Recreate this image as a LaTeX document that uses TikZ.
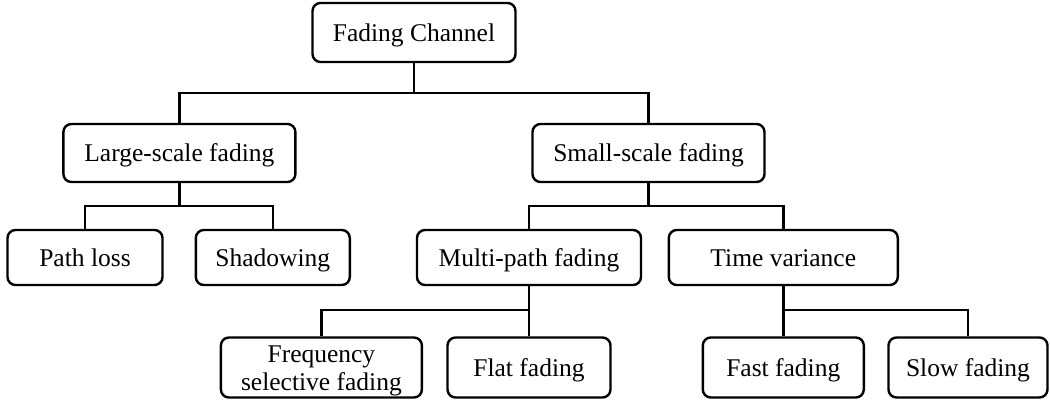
\documentclass[tikz,border=0pt]{standalone}
\usepackage{fontspec}
\setmainfont{Liberation Serif}
\begin{document}
\begin{tikzpicture}[x=1pt,y=-1pt,
  box/.style={draw, line width=2.4pt, rounded corners=8pt, inner sep=0pt,
    font=\fontsize{25.5}{28}\selectfont, align=center},
  onebox/.style={box, text height=20.5pt, text depth=3pt},
  txt/.style={inner sep=0pt, font=\fontsize{25.5}{28}\selectfont, align=center},
  conn/.style={line width=2.4pt}]
\useasboundingbox (0,0) rectangle (1050,401);
% level 1
\node[onebox, minimum width=203pt, minimum height=59pt] (fc) at (414,32.5) {Fading Channel};
% level 2
\node[onebox, minimum width=232pt, minimum height=58pt] (ls) at (179.4,153) {Large-scale fading};
\node[onebox, minimum width=232pt, minimum height=58pt] (ss) at (648.5,153) {Small-scale fading};
% level 3
\node[onebox, minimum width=155pt, minimum height=55pt] (pl) at (85,257.5) {Path loss};
\node[onebox, minimum width=154pt, minimum height=55pt] (sh) at (272.8,257.5) {Shadowing};
\node[onebox, minimum width=224pt, minimum height=55pt] (mp) at (529,257.5) {Multi-path fading};
\node[onebox, minimum width=229pt, minimum height=55pt] (tv) at (783.3,257.5) {Time variance};
% level 4
\node[box, minimum width=201pt, minimum height=60pt] (fs) at (321.4,367.5) {};
\node[txt] (fst) at ([yshift=-3pt]fs.center) {Frequency\\selective fading};
\node[onebox, minimum width=163pt, minimum height=60pt] (fl) at (529,367.5) {Flat fading};
\node[onebox, minimum width=161pt, minimum height=60pt] (fa) at (783.3,367.5) {Fast fading};
\node[onebox, minimum width=159pt, minimum height=60pt] (sl) at (968,367.5) {Slow fading};
% junctions
\coordinate (j1) at (414,93);
\coordinate (j2) at (179.4,206);
\coordinate (j3) at (648.5,206);
\coordinate (j4) at (529,310);
\coordinate (j5) at (783.3,310);
% connectors
\draw[conn] (fc.south) -- (j1);
\draw[conn] (ls.north) |- (j1) -| (ss.north);
\draw[conn] (ls.south) -- (j2);
\draw[conn] (pl.north) |- (j2) -| (sh.north);
\draw[conn] (ss.south) -- (j3);
\draw[conn] (mp.north) |- (j3) -| (tv.north);
\draw[conn] (mp.south) -- (fl.north);
\draw[conn] (fs.north) |- (j4);
\draw[conn] (tv.south) -- (fa.north);
\draw[conn] (j5) -| (sl.north);
\end{tikzpicture}
\end{document}
